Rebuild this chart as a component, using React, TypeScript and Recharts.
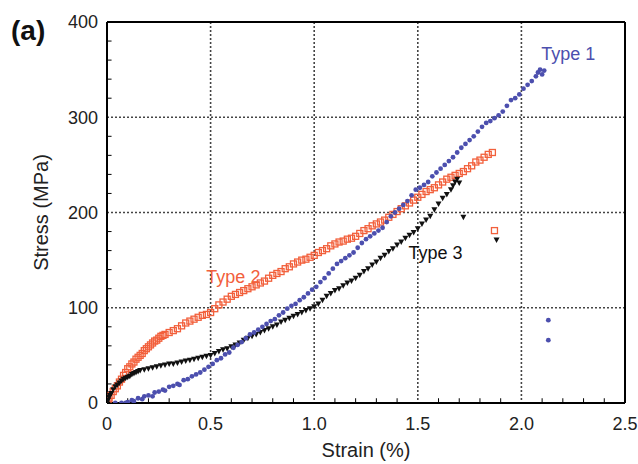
import React from 'react';
import {
  ScatterChart,
  Scatter,
  XAxis,
  YAxis,
  CartesianGrid,
  ReferenceLine,
  ReferenceDot,
} from 'recharts';

// ---- tick labels ----
const xTicks = [0, 0.5, 1.0, 1.5, 2.0, 2.5];
const yTicks = [0, 100, 200, 300, 400];
const xMinorTicks = [0.1, 0.2, 0.3, 0.4, 0.6, 0.7, 0.8, 0.9, 1.1, 1.2, 1.3, 1.4, 1.6, 1.7, 1.8, 1.9, 2.1, 2.2, 2.3, 2.4];
const yMinorTicks = [20, 40, 60, 80, 120, 140, 160, 180, 220, 240, 260, 280, 320, 340, 360, 380];

// ---- series: [strain %, stress MPa] ----
const type1: [number, number][] = [
  [0.04, 0], [0.07, 0], [0.09, 0], [0.1, 1], [0.12, 3], [0.13, 2], [0.15, 5], [0.17, 4], [0.18, 7], [0.2, 8],
  [0.22, 7], [0.23, 11], [0.25, 12], [0.27, 14], [0.28, 13], [0.3, 17], [0.32, 18], [0.34, 20], [0.35, 19],
  [0.37, 24], [0.39, 25], [0.41, 28], [0.43, 30], [0.45, 32], [0.47, 35], [0.49, 38], [0.51, 41], [0.53, 45],
  [0.55, 47], [0.57, 51], [0.59, 53], [0.61, 58], [0.63, 61], [0.65, 64], [0.67, 68], [0.69, 72], [0.71, 74],
  [0.73, 77], [0.75, 80], [0.77, 83], [0.79, 86], [0.81, 88], [0.83, 92], [0.85, 95], [0.87, 99], [0.89, 102],
  [0.91, 104], [0.93, 108], [0.95, 111], [0.97, 115], [0.99, 119], [1.01, 122], [1.03, 127], [1.05, 131],
  [1.07, 136], [1.09, 141], [1.11, 146], [1.13, 149], [1.15, 152], [1.17, 155], [1.19, 158], [1.21, 163],
  [1.23, 168], [1.25, 172], [1.27, 175], [1.29, 178], [1.31, 181], [1.33, 184], [1.35, 190], [1.37, 196],
  [1.39, 200], [1.41, 204], [1.43, 208], [1.45, 212], [1.47, 218], [1.49, 224], [1.51, 226], [1.53, 229],
  [1.55, 232], [1.57, 238], [1.59, 242], [1.61, 246], [1.63, 250], [1.65, 254], [1.67, 258], [1.69, 263],
  [1.71, 268], [1.73, 272], [1.75, 276], [1.77, 280], [1.79, 285], [1.81, 290], [1.83, 294], [1.85, 296],
  [1.87, 299], [1.89, 302], [1.91, 306], [1.93, 312], [1.95, 318], [1.97, 320], [1.99, 324], [2.01, 330],
  [2.03, 334], [2.05, 338], [2.07, 343], [2.08, 347], [2.09, 350], [2.1, 345], [2.11, 349],
  [2.13, 87], [2.13, 66],
];

const type2: [number, number][] = [
  [0.005, 2], [0.01, 5], [0.02, 8], [0.03, 12], [0.04, 15], [0.05, 18], [0.06, 22], [0.07, 25], [0.08, 29],
  [0.09, 32], [0.1, 36], [0.11, 38], [0.12, 41], [0.13, 43], [0.14, 46], [0.15, 48], [0.16, 50], [0.17, 52],
  [0.18, 55], [0.19, 57], [0.2, 59], [0.21, 61], [0.22, 63], [0.23, 65], [0.24, 66], [0.25, 68], [0.26, 70],
  [0.27, 71], [0.28, 72], [0.3, 74], [0.32, 76], [0.34, 78], [0.36, 81], [0.38, 84], [0.4, 86], [0.42, 88],
  [0.44, 90], [0.46, 92], [0.48, 93], [0.5, 95], [0.52, 99], [0.54, 103], [0.56, 106], [0.58, 109], [0.6, 112],
  [0.62, 114], [0.64, 116], [0.66, 118], [0.68, 120], [0.7, 122], [0.72, 124], [0.74, 126], [0.76, 128],
  [0.78, 131], [0.8, 134], [0.82, 136], [0.84, 138], [0.86, 141], [0.88, 143], [0.9, 146], [0.92, 148],
  [0.94, 150], [0.96, 151], [0.98, 153], [1.0, 155], [1.02, 158], [1.04, 160], [1.06, 162], [1.08, 165],
  [1.1, 167], [1.12, 169], [1.14, 170], [1.16, 172], [1.18, 173], [1.2, 175], [1.22, 178], [1.24, 181],
  [1.26, 183], [1.28, 186], [1.3, 188], [1.32, 190], [1.34, 192], [1.36, 195], [1.38, 198], [1.4, 201],
  [1.42, 204], [1.44, 207], [1.46, 210], [1.48, 213], [1.5, 216], [1.52, 219], [1.54, 222], [1.56, 224],
  [1.58, 226], [1.6, 229], [1.62, 232], [1.64, 235], [1.66, 237], [1.68, 239], [1.7, 241], [1.72, 243],
  [1.74, 246], [1.76, 249], [1.78, 253], [1.8, 255], [1.82, 258], [1.84, 261], [1.86, 263],
  [1.87, 181],
];

const type3: [number, number][] = [
  [0.0, 0], [0.005, 3], [0.01, 6], [0.015, 8], [0.02, 10], [0.03, 14], [0.04, 17], [0.05, 19], [0.06, 21],
  [0.07, 23], [0.08, 25], [0.09, 26], [0.1, 27], [0.11, 28], [0.12, 30], [0.13, 31], [0.14, 32], [0.15, 33],
  [0.16, 34], [0.18, 35], [0.2, 36], [0.22, 37], [0.24, 38], [0.26, 39], [0.28, 40], [0.3, 41], [0.32, 41],
  [0.34, 42], [0.36, 43], [0.38, 44], [0.4, 45], [0.42, 46], [0.44, 47], [0.46, 48], [0.48, 49], [0.5, 50],
  [0.52, 52], [0.54, 54], [0.56, 56], [0.58, 57], [0.6, 59], [0.62, 61], [0.64, 63], [0.66, 66], [0.68, 68],
  [0.7, 70], [0.72, 72], [0.74, 74], [0.76, 76], [0.78, 78], [0.8, 80], [0.82, 82], [0.84, 85], [0.86, 87],
  [0.88, 89], [0.9, 91], [0.92, 93], [0.94, 95], [0.96, 97], [0.98, 99], [1.0, 101], [1.02, 104], [1.04, 108],
  [1.06, 112], [1.08, 115], [1.1, 118], [1.12, 120], [1.14, 123], [1.16, 126], [1.18, 128], [1.2, 131],
  [1.22, 134], [1.24, 138], [1.26, 141], [1.28, 145], [1.3, 148], [1.32, 152], [1.34, 155], [1.36, 159],
  [1.38, 162], [1.4, 166], [1.42, 169], [1.44, 173], [1.46, 176], [1.48, 179], [1.5, 183], [1.52, 188],
  [1.54, 192], [1.56, 196], [1.58, 203], [1.6, 209], [1.62, 215], [1.64, 219], [1.66, 224], [1.67, 228],
  [1.68, 232], [1.69, 235], [1.7, 231],
  [1.72, 195], [1.88, 171],
];

// ---- in-plot series labels ----
const seriesNames = ['Type 1', 'Type 2', 'Type 3'];
const seriesLabelStrain = [2.226, 0.61, 1.585];
const seriesLabelStress = [367, 133, 158];

const BLUE = '#4c4fae';
const ORANGE = '#f2603c';
const BLACK = '#111111';
const seriesColors = [BLUE, ORANGE, BLACK];
const FONT = '"Liberation Sans", Arial, Helvetica, sans-serif';

const toPts = (arr: [number, number][]) => arr.map(([x, y]) => ({ x, y }));

const DotShape = (p: any) => <circle cx={p.cx} cy={p.cy} r={2.4} fill={BLUE} />;
const SquareShape = (p: any) => (
  <rect x={p.cx - 3} y={p.cy - 3} width={6} height={6} fill="none" stroke={ORANGE} strokeWidth={1.3} />
);
const TriShape = (p: any) => (
  <path d={`M${p.cx - 3},${p.cy - 2.5}L${p.cx + 3},${p.cy - 2.5}L${p.cx},${p.cy + 3}Z`} fill={BLACK} />
);

const YTitle = (props: any) => {
  const vb = props.viewBox || { x: 0, y: 0, width: 0, height: 0 };
  const cx = vb.x + 41;
  const cy = vb.y + vb.height / 2;
  return (
    <text
      x={cx}
      y={cy}
      transform={`rotate(-90 ${cx} ${cy})`}
      textAnchor="middle"
      dominantBaseline="central"
      fontSize={20}
      fontFamily={FONT}
      fill="#222"
    >
      Stress (MPa)
    </text>
  );
};

export default function App() {
  return (
    <div style={{ position: 'absolute', left: 0, top: 0, width: 638, height: 464, background: '#fff' }}>
      <ScatterChart width={638} height={464} margin={{ top: 22, right: 13, bottom: 0, left: 0 }}>
        <CartesianGrid stroke="#444" strokeDasharray="2 2" strokeWidth={1.6} />
        <XAxis
          type="number"
          dataKey="x"
          domain={[0, 2.5]}
          ticks={xTicks}
          tickFormatter={(v: number) => (v === 0 ? '0' : v.toFixed(1))}
          height={61}
          tickSize={0}
          tickMargin={14}
          axisLine={{ stroke: '#000', strokeWidth: 2 }}
          tick={{ fontSize: 18, fill: '#222', fontFamily: FONT }}
          allowDataOverflow
          label={{ value: 'Strain (%)', position: 'insideBottom', offset: 7, fontSize: 20, fill: '#222', fontFamily: FONT }}
        />
        <YAxis
          type="number"
          dataKey="y"
          domain={[0, 400]}
          ticks={yTicks}
          width={107}
          tickSize={0}
          tickMargin={9}
          axisLine={{ stroke: '#000', strokeWidth: 2 }}
          tick={{ fontSize: 18, fill: '#222', fontFamily: FONT }}
          allowDataOverflow
          label={<YTitle />}
        />
        {xMinorTicks.map((v) => (
          <ReferenceLine key={'xm' + v} segment={[{ x: v, y: 0 }, { x: v, y: 5 }]} stroke="#000" strokeWidth={1} />
        ))}
        {yMinorTicks.map((v) => (
          <ReferenceLine key={'ym' + v} segment={[{ x: 0, y: v }, { x: 0.022, y: v }]} stroke="#000" strokeWidth={1} />
        ))}
        <ReferenceLine y={400} stroke="#000" strokeWidth={2} />
        <ReferenceLine x={2.5} stroke="#000" strokeWidth={2} />
        <Scatter name="Type 2" data={toPts(type2)} shape={SquareShape} isAnimationActive={false} />
        <Scatter name="Type 3" data={toPts(type3)} shape={TriShape} isAnimationActive={false} />
        <Scatter name="Type 1" data={toPts(type1)} shape={DotShape} isAnimationActive={false} />
        {seriesNames.map((n, i) => (
          <ReferenceDot
            key={n}
            x={seriesLabelStrain[i]}
            y={seriesLabelStress[i]}
            r={0}
            fill="none"
            stroke="none"
            label={{ value: n, position: 'center', fontSize: 18, fill: seriesColors[i], fontFamily: FONT }}
          />
        ))}
      </ScatterChart>
      <div
        style={{
          position: 'absolute',
          left: 11,
          top: 17,
          fontFamily: FONT,
          fontWeight: 'bold',
          fontSize: 28,
          lineHeight: 1,
          color: '#111',
        }}
      >
        (a)
      </div>
    </div>
  );
}
